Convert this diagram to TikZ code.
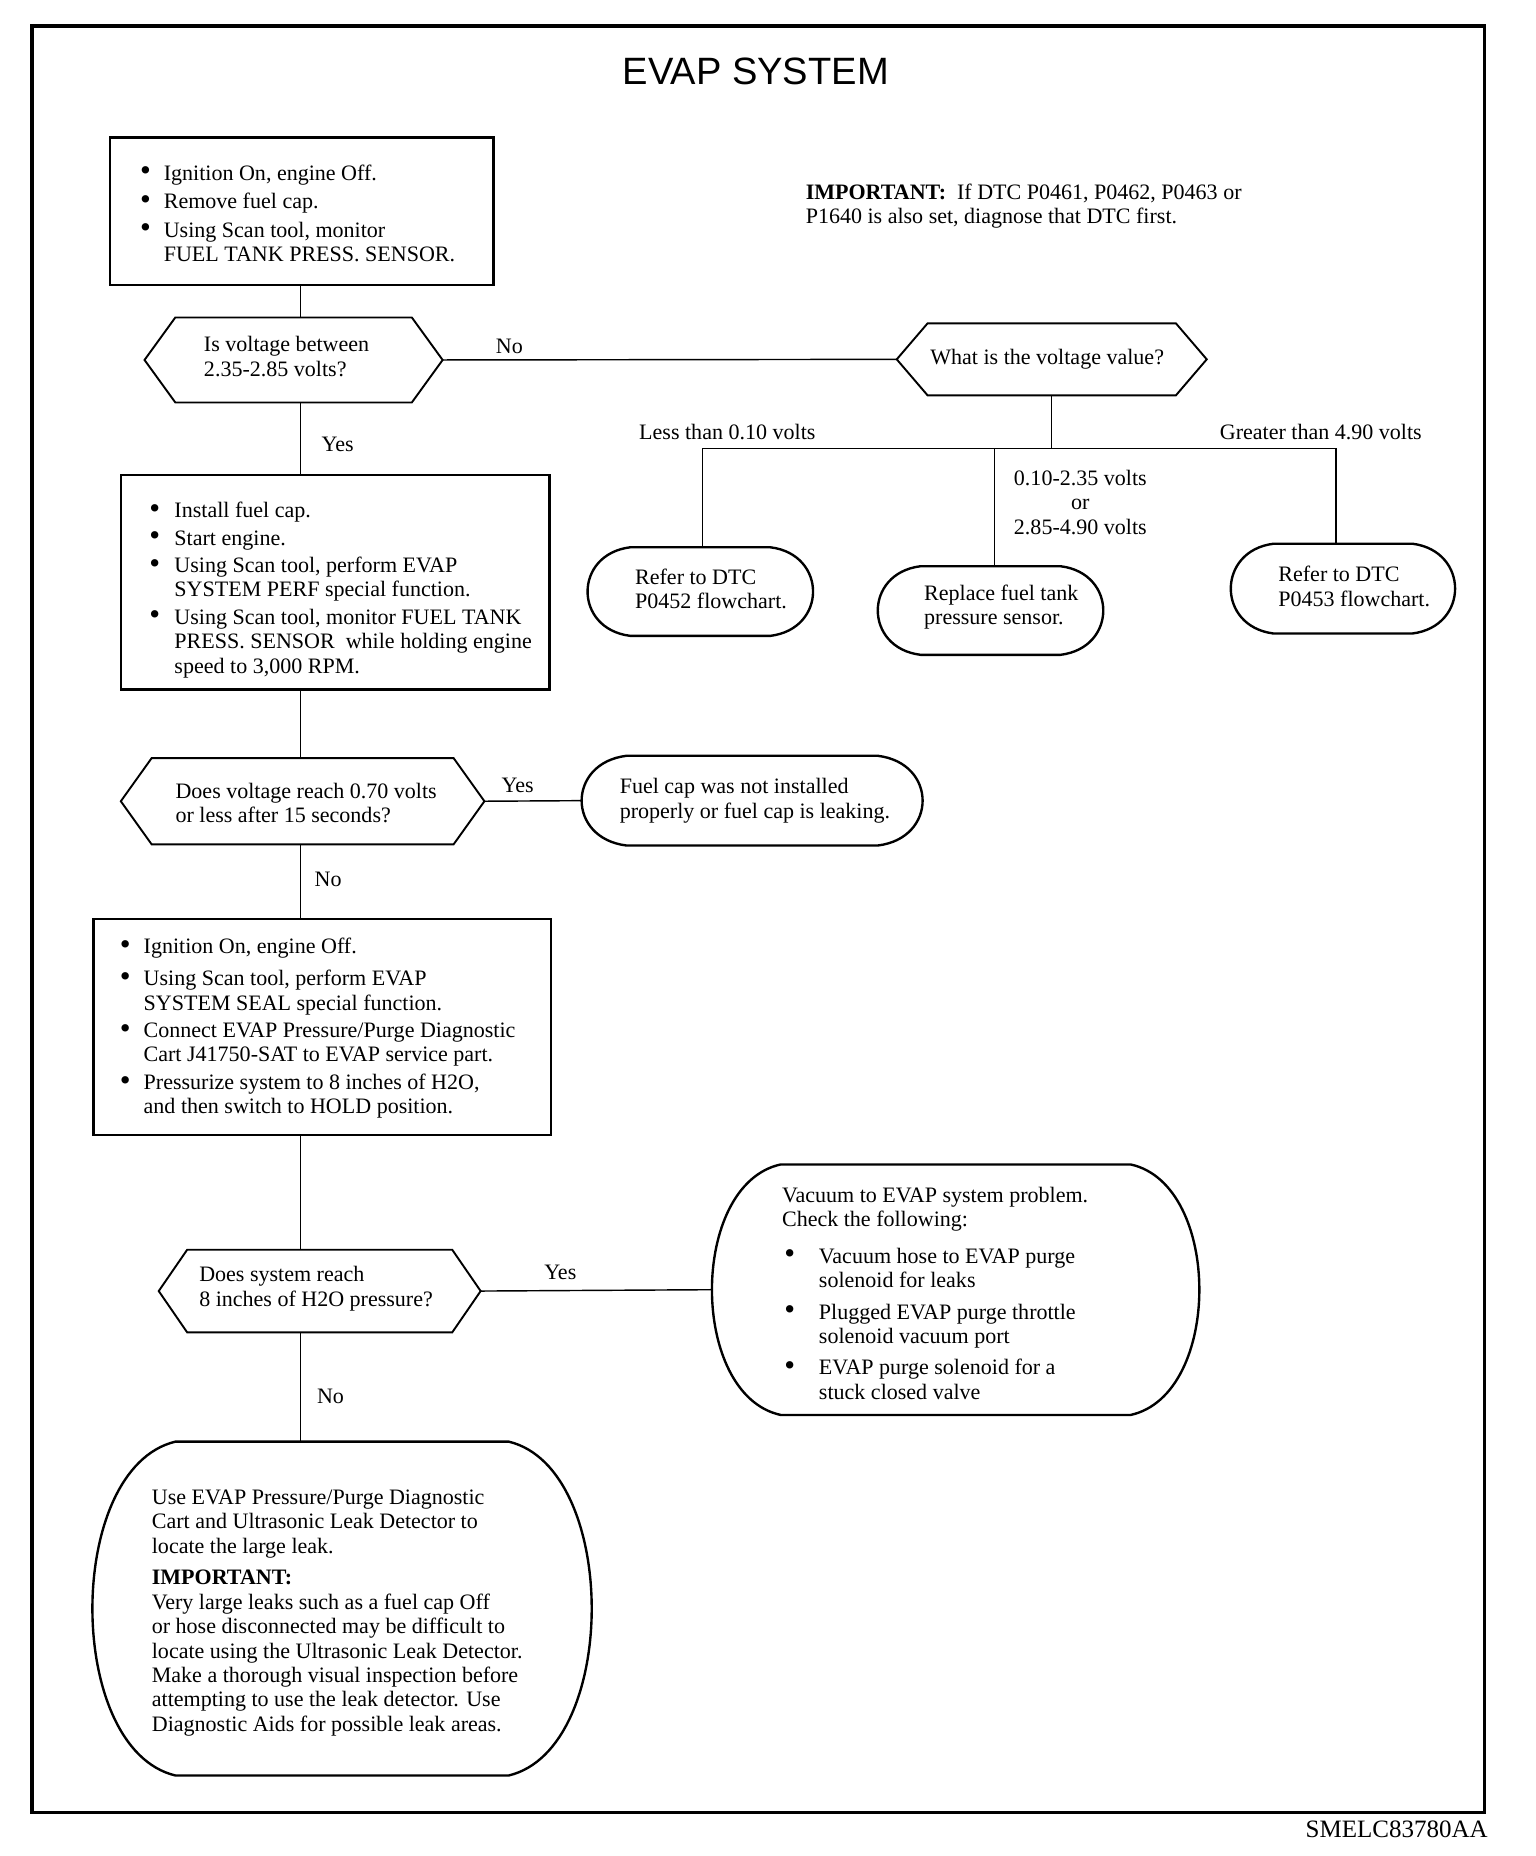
\documentclass[tikz,border=0pt]{standalone}
\usepackage{fontspec}
\usepackage{graphicx}
\setmainfont{Liberation Serif}
\newfontfamily\titlefont{Liberation Sans}
\usetikzlibrary{calc}
\newcommand{\bul}{\raisebox{-0.6pt}{\scalebox{1.4}{\textbullet}}}
\newcommand{\itm}[2][20pt]{\par\hangindent=#1\hangafter=1\noindent\hbox to #1{\bul\hfil}#2\par}
\newcommand{\itmo}[1]{\par\hangindent=31pt\hangafter=1\noindent\hbox to 31pt{\hspace{2pt}\bul\hfil}#1\par}
\newcommand{\hexdraw}[2]{\draw[shapeline] (#1.west) -- ($(#1.north west)+(#2,0)$) -- ($(#1.north east)+(-#2,0)$) -- (#1.east) -- ($(#1.south east)+(-#2,0)$) -- ($(#1.south west)+(#2,0)$) -- cycle;}
\newcommand{\barreldraw}[2]{\draw[ovalline] ($(#1.north west)+(#2,0)$) -- ($(#1.north east)+(-#2,0)$)
 .. controls ($(#1.north east)!0.08!(#1.south east)+(#2/3,0)$) and ($(#1.south east)!0.08!(#1.north east)+(#2/3,0)$) .. ($(#1.south east)+(-#2,0)$)
 -- ($(#1.south west)+(#2,0)$)
 .. controls ($(#1.south west)!0.08!(#1.north west)+(-#2/3,0)$) and ($(#1.north west)!0.08!(#1.south west)+(-#2/3,0)$) .. ($(#1.north west)+(#2,0)$) -- cycle;}
\begin{document}
\begin{tikzpicture}[x=0.995pt,y=-0.995pt,
  frame/.style={draw, line width=2pt, inner sep=0pt, anchor=north west},
  area/.style={inner sep=0pt, anchor=north west},
  shapeline/.style={line width=1.6pt, line join=miter},
  ovalline/.style={line width=2pt},
  conn/.style={line width=1.2pt},
  txt/.style={anchor=base west, inner sep=0pt, font=\fontsize{18.5}{20.5}\selectfont},
  lbl/.style={inner sep=0pt, font=\fontsize{18.5}{20.5}\selectfont}]
\useasboundingbox (0,0) rectangle (1296.5,1566.8);
\fill[white] (0,0) rectangle (1296.5,1566.8);
\draw[line width=3pt] (27,22) rectangle (1253,1530);

\node[font=\titlefont\fontsize{32}{36}\selectfont, inner sep=0pt] (title) at (638,60) {EVAP SYSTEM};

% shapes
\node[frame, minimum width=322pt, minimum height=124pt] (b1) at (92,115) {};
\node[frame, minimum width=360pt, minimum height=180pt] (b2) at (101,400) {};
\node[frame, minimum width=384pt, minimum height=181pt] (b3) at (78,775) {};

\node[area, minimum width=250pt, minimum height=71pt] (h1) at (122,268) {};
\node[area, minimum width=260pt, minimum height=60pt] (h2) at (757,273) {};
\node[area, minimum width=305pt, minimum height=72pt] (h3) at (102,640) {};
\node[area, minimum width=270pt, minimum height=69pt] (h4) at (134,1055) {};
\hexdraw{h1}{26}
\hexdraw{h2}{26}
\hexdraw{h3}{26}
\hexdraw{h4}{24}

\node[area, minimum width=189pt, minimum height=74pt] (o1) at (496,462) {};
\node[area, minimum width=189pt, minimum height=74pt] (o2) at (741,478) {};
\node[area, minimum width=188pt, minimum height=75pt] (o3) at (1039,459) {};
\node[area, minimum width=286pt, minimum height=75pt] (o4) at (491,638) {};
\node[area, minimum width=409pt, minimum height=210pt] (o5) at (601,983) {};
\node[area, minimum width=419pt, minimum height=280pt] (o6) at (78,1217) {};
\barreldraw{o1}{36}
\barreldraw{o2}{36}
\barreldraw{o3}{36}
\barreldraw{o4}{38}
\barreldraw{o5}{58}
\barreldraw{o6}{70}

% texts
\node[txt] (t1) at (118,152) {\parbox[t]{320pt}{\raggedright\setlength{\parskip}{3.5pt}%
\itm{Ignition On, engine Off.}\itm{Remove fuel cap.}\itm{Using Scan tool, monitor\newline FUEL TANK PRESS. SENSOR.}}};
\node[txt] (imp) at (680,168) {\parbox[t]{420pt}{\raggedright\textbf{IMPORTANT:}\ \ If DTC P0461, P0462, P0463 or\newline P1640 is also set, diagnose that DTC first.}};
\node[txt] (th1) at (172,297) {\parbox[t]{200pt}{\raggedright Is voltage between\newline 2.35-2.85 volts?}};
\node[lbl, anchor=base] (th2) at (884,308) {What is the voltage value?};
\node[txt] (t2) at (126,437) {\parbox[t]{340pt}{\raggedright\setlength{\parskip}{2.5pt}%
\itm[21pt]{Install fuel cap.}\itm[21pt]{Start engine.}\itm[21pt]{Using Scan tool, perform EVAP\newline SYSTEM PERF special function.}\itm[21pt]{Using Scan tool, monitor FUEL TANK\newline PRESS. SENSOR\ \ while holding engine\newline speed to 3,000 RPM.}}};
\node[txt] (to1) at (536,493) {\parbox[t]{170pt}{\raggedright Refer to DTC\newline P0452 flowchart.}};
\node[txt] (to2) at (780,507) {\parbox[t]{170pt}{\raggedright Replace fuel tank\newline pressure sensor.}};
\node[txt] (to3) at (1079,491) {\parbox[t]{170pt}{\raggedright Refer to DTC\newline P0453 flowchart.}};
\node[txt] (th3) at (148,674) {\parbox[t]{280pt}{\raggedright Does voltage reach 0.70 volts\newline or less after 15 seconds?}};
\node[txt] (to4) at (523,670) {\parbox[t]{280pt}{\raggedright Fuel cap was not installed\newline properly or fuel cap is leaking.}};
\node[txt] (t3) at (101,805) {\parbox[t]{380pt}{\raggedright\setlength{\parskip}{2.5pt}%
\itm{Ignition On, engine Off.}\vspace{4pt}\itm{Using Scan tool, perform EVAP\newline SYSTEM SEAL special function.}\itm{Connect EVAP Pressure/Purge Diagnostic\newline Cart J41750-SAT to EVAP service part.}\itm{Pressurize system to 8 inches of H2O,\newline and then switch to HOLD position.}}};
\node[txt] (th4) at (168,1082) {\parbox[t]{240pt}{\raggedright Does system reach\newline 8 inches of H2O pressure?}};
\node[txt] (to5) at (660,1015) {\parbox[t]{330pt}{\raggedright\setlength{\parskip}{6pt}%
Vacuum to EVAP system problem.\newline Check the following:\par\vspace{4pt}%
\itmo{Vacuum hose to EVAP purge\newline solenoid for leaks}%
\itmo{Plugged EVAP purge throttle\newline solenoid vacuum port}%
\itmo{EVAP purge solenoid for a\newline stuck closed valve}}};
\node[txt] (to6) at (128,1270) {\parbox[t]{340pt}{\raggedright
Use EVAP Pressure/Purge Diagnostic\newline Cart and Ultrasonic Leak Detector to\newline locate the large leak.\par\vspace{6pt}%
\textbf{IMPORTANT:}\newline Very large leaks such as a fuel cap Off\newline or hose disconnected may be difficult to\newline locate using the Ultrasonic Leak Detector.\newline Make a thorough visual inspection before\newline attempting to use the leak detector. Use\newline Diagnostic Aids for possible leak areas.}};

% connectors
\coordinate (spine) at (253.5,0);
\draw[conn] (spine |- b1.south) -- (spine |- h1.north);
\draw[conn] (spine |- h1.south) -- (spine |- b2.north);
\draw[conn] (spine |- b2.south) -- (spine |- h3.north);
\draw[conn] (spine |- h3.south) -- (spine |- b3.north);
\draw[conn] (spine |- b3.south) -- (spine |- h4.north);
\draw[conn] (spine |- h4.south) -- (spine |- o6.north);
\draw[conn] (h1.east) -- (h2.west);
\draw[conn] (h3.east) -- (o4.west);
\draw[conn] (h4.east) -- (o5.west);
\coordinate (j) at ($(h2.south)+(0,45)$);
\coordinate (o1top) at ($(o1.north)+(2,0)$);
\coordinate (o2top) at ($(o2.north)+(3.5,0)$);
\coordinate (o3top) at ($(o3.north)+(-6,0)$);
\draw[conn] (h2.south) -- (j);
\draw[conn] (o1top) -- (o1top |- j) -- (o3top |- j) -- (o3top);
\draw[conn] (o2top |- j) -- (o2top);

% labels
\node[lbl] (l1) at (430,292) {No};
\node[lbl] (l2) at (285,375) {Yes};
\node[lbl] (l3) at (614,365) {Less than 0.10 volts};
\node[lbl] (l4) at (1115,365) {Greater than 4.90 volts};
\node[lbl, align=center] (l5) at (912,424) {0.10-2.35 volts\\or\\2.85-4.90 volts};
\node[lbl] (l6) at (437,663) {Yes};
\node[lbl] (l7) at (277,742) {No};
\node[lbl] (l8) at (473,1074) {Yes};
\node[lbl] (l9) at (279,1179) {No};
\node[inner sep=0pt, anchor=base east, font=\fontsize{21}{24}\selectfont] (code) at (1256,1551) {SMELC83780AA};
\end{tikzpicture}
\end{document}
